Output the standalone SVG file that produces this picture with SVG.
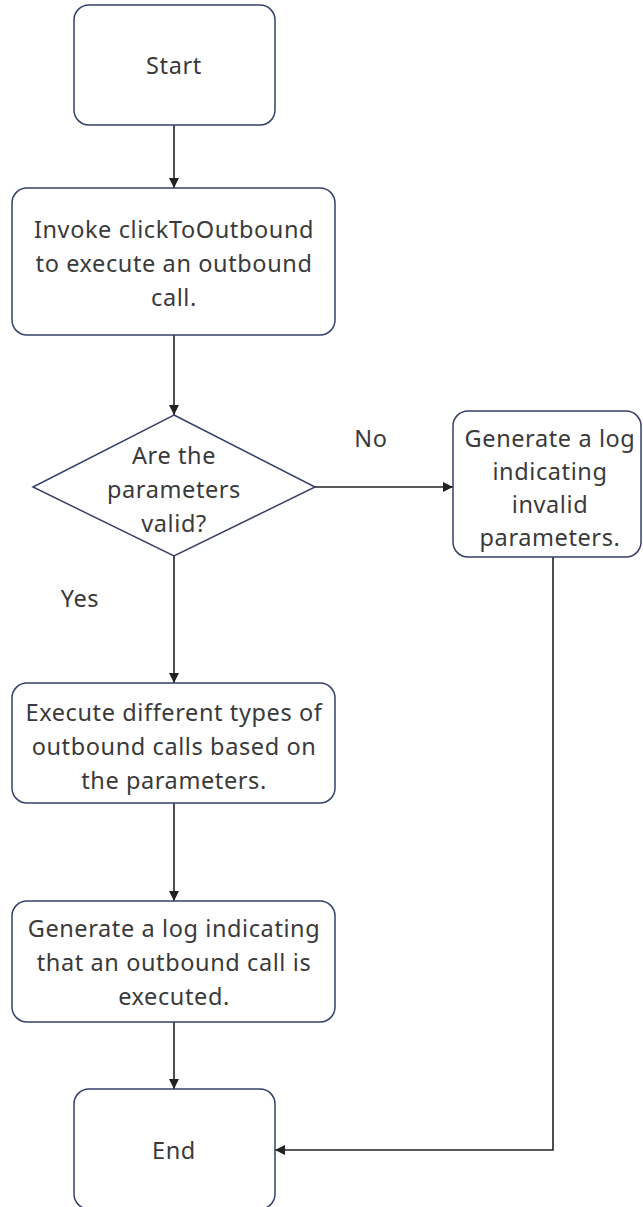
<svg xmlns="http://www.w3.org/2000/svg" width="643" height="1207" viewBox="0 0 643 1207">
<style>
.box{fill:#ffffff;stroke:#36406a;stroke-width:1.5}
.edge{fill:none;stroke:#222222;stroke-width:1.6}
text{font-family:"Noto Sans","Open Sans","DejaVu Sans",sans-serif;font-size:23.5px;letter-spacing:0.6px;fill:#3a3a3a;text-anchor:middle;dominant-baseline:central}
</style>
<defs>
<marker id="arr" viewBox="0 0 10 10" refX="10" refY="5" markerWidth="10" markerHeight="10" markerUnits="userSpaceOnUse" orient="auto">
<path d="M0,0 L10,5 L0,10 z" fill="#222222"/>
</marker>
</defs>
<rect width="643" height="1207" fill="#ffffff"/>
<g id="connectors">
<path class="edge" d="M174,125 V188" marker-end="url(#arr)"/>
<path class="edge" d="M174,335 V415" marker-end="url(#arr)"/>
<path class="edge" d="M315,487 H453" marker-end="url(#arr)"/>
<path class="edge" d="M174,556 V683" marker-end="url(#arr)"/>
<path class="edge" d="M174,803 V901" marker-end="url(#arr)"/>
<path class="edge" d="M174,1022 V1089" marker-end="url(#arr)"/>
<path class="edge" d="M553,557 V1150 H275" marker-end="url(#arr)"/>
<text x="371" y="438">No</text>
<text x="80" y="598">Yes</text>
</g>
<g id="start">
<rect class="box" x="74" y="5" width="201" height="120" rx="15"/>
<text x="174" y="65">Start</text>
</g>
<g id="invoke">
<rect class="box" x="12" y="188" width="323" height="147" rx="15"/>
<text x="174" y="229">Invoke clickToOutbound</text>
<text x="174" y="263">to execute an outbound</text>
<text x="174" y="297">call.</text>
</g>
<g id="decision">
<polygon class="box" points="174,415 315,487 174,556 33,487"/>
<text x="174" y="455">Are the</text>
<text x="174" y="489">parameters</text>
<text x="174" y="523">valid?</text>
</g>
<g id="invalid">
<rect class="box" x="453" y="411" width="188" height="146" rx="15"/>
<text x="550" y="438">Generate a log</text>
<text x="550" y="471">indicating</text>
<text x="550" y="504">invalid</text>
<text x="550" y="537">parameters.</text>
</g>
<g id="execute">
<rect class="box" x="12" y="683" width="323" height="120" rx="15"/>
<text x="174" y="712">Execute different types of</text>
<text x="174" y="746">outbound calls based on</text>
<text x="174" y="780">the parameters.</text>
</g>
<g id="logexec">
<rect class="box" x="12" y="901" width="323" height="121" rx="15"/>
<text x="174" y="928">Generate a log indicating</text>
<text x="174" y="962">that an outbound call is</text>
<text x="174" y="996">executed.</text>
</g>
<g id="end">
<rect class="box" x="74" y="1089" width="201" height="120" rx="15"/>
<text x="174" y="1150">End</text>
</g>
</svg>
